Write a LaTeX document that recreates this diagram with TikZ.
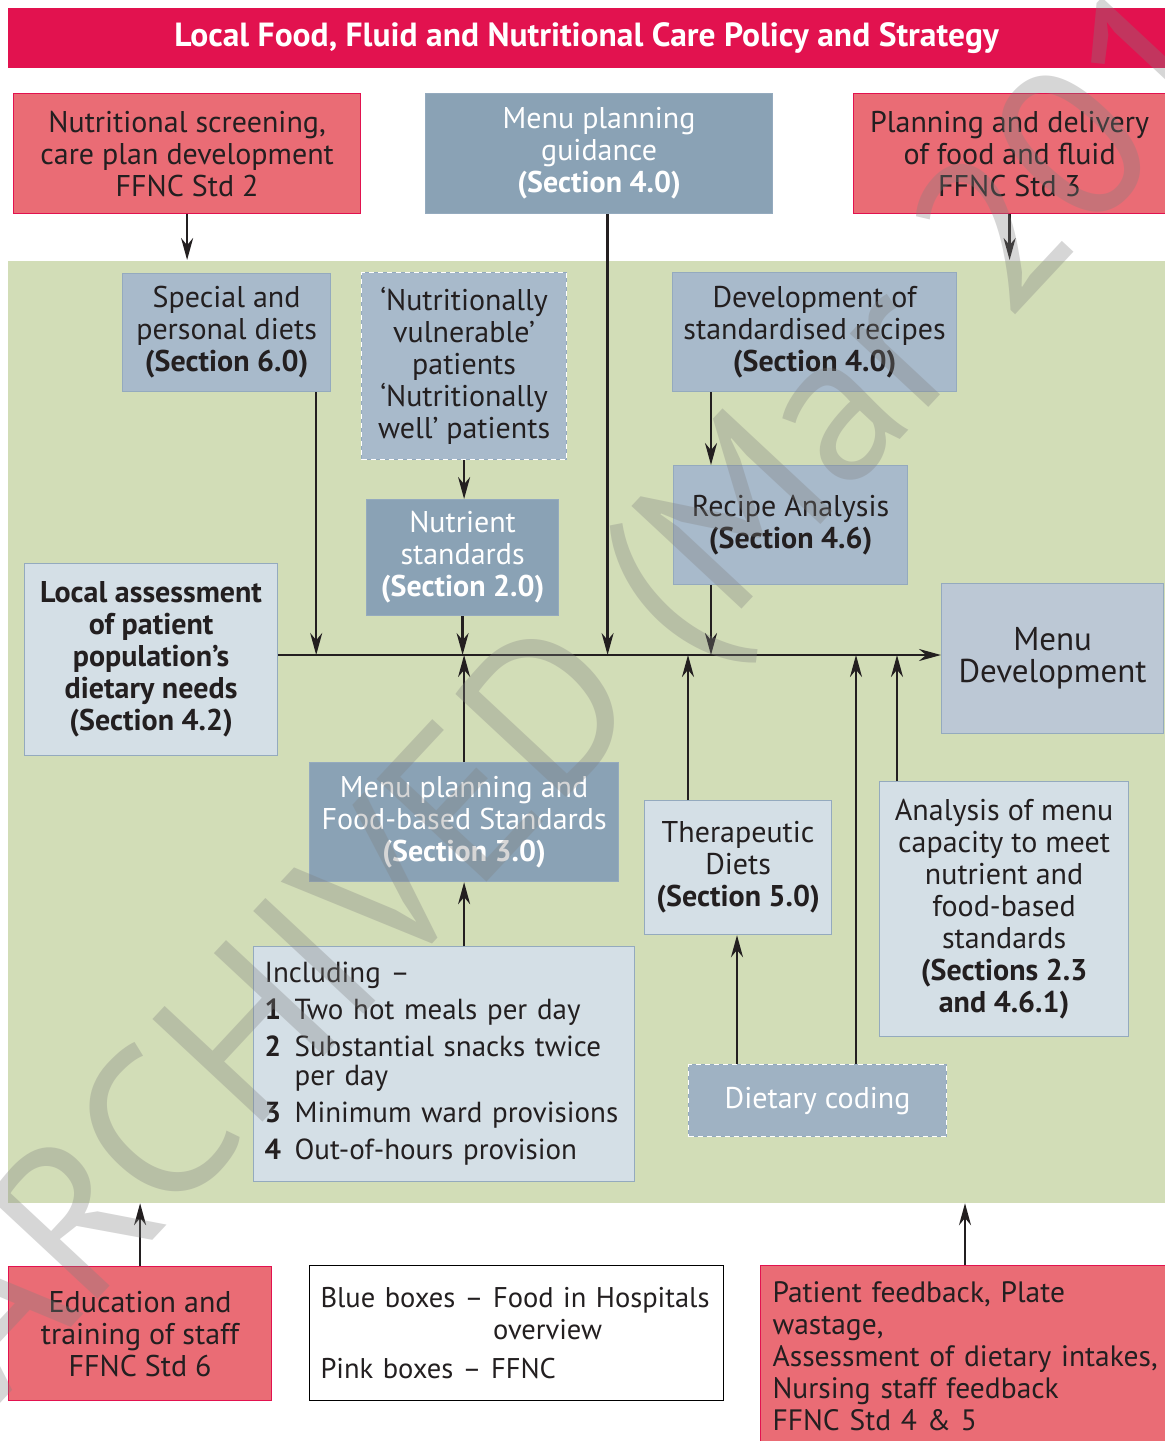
\documentclass[tikz,border=0pt]{standalone}
\usepackage{fontspec}
\setmainfont{PT Sans}
\usetikzlibrary{arrows.meta}
\definecolor{crim}{HTML}{E2124F}
\definecolor{pinkf}{HTML}{EA6C75}
\definecolor{steel}{HTML}{8AA2B5}
\definecolor{midb}{HTML}{A8BACB}
\definecolor{mdb}{HTML}{BCC8D5}
\definecolor{lightb}{HTML}{D4DFE6}
\definecolor{codeb}{HTML}{9FB2C3}
\definecolor{greenbg}{HTML}{D2DDB7}
\definecolor{bordb}{HTML}{94AABE}
\definecolor{ink}{HTML}{231F20}
\newcommand\myfs{\fontsize{30}{32}\selectfont}
\newcommand\numline[2]{\mbox{\makebox[30pt][l]{\textbf{#1}}#2}}
\begin{document}
\begin{tikzpicture}[x=1pt,y=-1pt,
  box/.style={draw, line width=1.2pt, inner sep=0pt, align=center, font=\myfs, text=ink, anchor=north west},
  pinkbox/.style={box, fill=pinkf, draw=crim},
  steelbox/.style={box, fill=steel, draw=bordb, text=white},
  midbox/.style={box, fill=midb, draw=bordb},
  lightbox/.style={box, fill=lightb, draw=bordb},
  dashbox/.style={postaction={draw=white, line width=1.2pt, dash pattern=on 5pt off 4pt}},
  arr/.style={-{Stealth[length=22pt,width=12pt]}, line width=2.4pt, draw=ink}]
\useasboundingbox (0,0) rectangle (1165,1441);
\fill[white] (0,0) rectangle (1165,1441);
\begin{scope}
\clip (0,0) rectangle (1165,1441);
% title and background
\node[box, fill=crim, draw=none, minimum width=1158pt, minimum height=60pt, text=white,
  font=\bfseries\fontsize{33.5}{34}\selectfont] (title) at (7,7) {Local Food, Fluid and Nutritional Care Policy and Strategy};
\node[box, fill=greenbg, draw=none, minimum width=1158pt, minimum height=942pt] (green) at (7,260) {};
% top row
\node[pinkbox, minimum width=347pt, minimum height=120pt] (scr) at (13,93) {Nutritional screening,\\care plan development\\FFNC Std 2};
\node[steelbox, minimum width=347pt, minimum height=120pt] (mpg) at (425,93) {Menu planning\\guidance\\\textbf{(Section 4.0)}};
\node[pinkbox, minimum width=312pt, minimum height=120pt] (plan) at (853,93) {Planning and delivery\\of food and fluid\\FFNC Std 3};
% inner boxes
\node[midbox, minimum width=208pt, minimum height=118pt] (spec) at (122,273) {Special and\\personal diets\\\textbf{(Section 6.0)}};
\node[midbox, dashbox, minimum width=205pt, minimum height=187pt] (vul) at (361,272) {‘Nutritionally\\vulnerable’\\patients\\‘Nutritionally\\well’ patients};
\node[midbox, minimum width=284pt, minimum height=119pt] (dev) at (672,272) {Development of\\standardised recipes\\\textbf{(Section 4.0)}};
\node[midbox, minimum width=234pt, minimum height=119pt] (rec) at (673,465) {Recipe Analysis\\\textbf{(Section 4.6)}};
\node[steelbox, minimum width=192pt, minimum height=116pt] (nut) at (366,499) {Nutrient\\standards\\\textbf{(Section 2.0)}};
\node[lightbox, minimum width=253pt, minimum height=192pt, font=\bfseries\myfs] (loc) at (24,563) {Local assessment\\of patient\\population’s\\dietary needs\\(Section 4.2)};
\node[box, fill=mdb, draw=bordb, minimum width=222pt, minimum height=150pt, font=\fontsize{33}{32}\selectfont] (md) at (941,583) {Menu\\Development};
\node[steelbox, minimum width=309pt, minimum height=119pt] (mpf) at (309,762) {Menu planning and\\Food-based Standards\\\textbf{(Section 3.0)}};
\node[lightbox, align=left, inner xsep=11pt, text width=359pt, minimum height=235pt, font=\fontsize{29}{29}\selectfont] (inc) at (253,946) {\mbox{Including –}\\[8pt]
\numline{1}{Two hot meals per day}\\[8pt]
\numline{2}{Substantial snacks twice}\\
\mbox{\hspace*{30pt}per day}\\[8pt]
\numline{3}{Minimum ward provisions}\\[8pt]
\numline{4}{Out-of-hours provision}};
\node[lightbox, minimum width=187pt, minimum height=134pt] (ther) at (644,800) {Therapeutic\\Diets\\\textbf{(Section 5.0)}};
\node[box, fill=codeb, draw=bordb, dashbox, text=white, minimum width=258pt, minimum height=72pt] (code) at (688,1064) {Dietary coding};
\node[lightbox, minimum width=249pt, minimum height=255pt] (ana) at (879,781) {Analysis of menu\\capacity to meet\\nutrient and\\food-based\\standards\\\textbf{(Sections 2.3}\\\textbf{and 4.6.1)}};
% bottom row
\node[pinkbox, minimum width=263pt, minimum height=134pt] (edu) at (8,1266) {Education and\\training of staff\\FFNC Std 6};
\node[box, fill=white, draw=black, line width=1pt, align=left, inner xsep=11pt, text width=392pt, minimum height=135pt, font=\fontsize{28.5}{32}\selectfont] (leg) at (309,1265) {Blue boxes – Food in Hospitals\\
\phantom{Blue boxes – }overview\\[7pt]
Pink boxes – FFNC};
\node[pinkbox, align=left, inner xsep=12pt, text width=386pt, minimum height=182pt, font=\fontsize{29.5}{32}\selectfont] (pf) at (760,1265) {Patient feedback, Plate\\wastage,\\Assessment of dietary intakes,\\Nursing staff feedback\\FFNC Std 4 \& 5};
% connectors
\coordinate (bus) at (0,655);
\coordinate (a1) at ([xshift=-15pt]spec.south east);
\coordinate (a2) at ([xshift=8.5pt]mpg.south);
\coordinate (a3) at ([xshift=39pt]dev.south west);
\coordinate (a4) at ([xshift=38pt]rec.south west);
\coordinate (a5) at ([xshift=44pt]ther.north west);
\coordinate (a6) at ([xshift=49pt]code.north west);
\coordinate (a7) at ([xshift=168pt]code.north west);
\coordinate (a8) at ([xshift=18pt]ana.north west);
\coordinate (a9) at ([xshift=205pt]pf.north west);
\draw[arr] (loc.east |- bus) -- (md.west |- bus);
\draw[arr] (a1) -- (a1 |- bus);
\draw[arr] (vul.south) -- (vul.south |- nut.north);
\draw[arr] (nut.south) -- (nut.south |- bus);
\draw[arr] (a2) -- (a2 |- bus);
\draw[arr] (a3) -- (a3 |- rec.north);
\draw[arr] (a4) -- (a4 |- bus);
\draw[arr] (mpf.north) -- (mpf.north |- bus);
\draw[arr] (mpf.south |- inc.north) -- (mpf.south);
\draw[arr] (a5) -- (a5 |- bus);
\draw[arr] (a6) -- (a6 |- ther.south);
\draw[arr] (a7) -- (a7 |- bus);
\draw[arr] (a8) -- (a8 |- bus);
\draw[arr] (scr.south) -- (scr.south |- green.north);
\draw[arr] (plan.south) -- (plan.south |- green.north);
\draw[arr] (edu.north) -- (edu.north |- green.south);
\draw[arr] (a9) -- (a9 |- green.south);
% watermark
\node[rotate=47, text=gray, opacity=0.32, font=\fontsize{215}{215}\selectfont] (wm) at (645,635) {ARCHIVED (Mar 2014)};
\end{scope}
\end{tikzpicture}
\end{document}
